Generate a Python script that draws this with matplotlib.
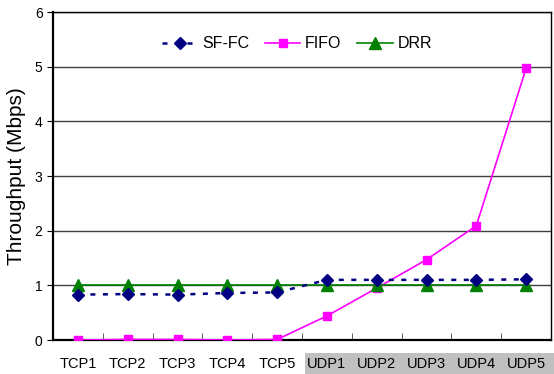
import numpy as np
import matplotlib.pyplot as plt
from matplotlib.patches import Rectangle

flows = ["TCP1", "TCP2", "TCP3", "TCP4", "TCP5", "UDP1", "UDP2", "UDP3", "UDP4", "UDP5"]
sffc = [0.83, 0.84, 0.83, 0.86, 0.87, 1.10, 1.10, 1.10, 1.10, 1.11]
fifo = [0.00, 0.01, 0.01, 0.00, 0.01, 0.44, 0.95, 1.47, 2.09, 4.97]
drr = [1.00, 1.00, 1.00, 1.00, 1.00, 1.00, 1.00, 1.00, 1.00, 1.00]

plt.rcParams['font.family'] = ['Liberation Sans', 'DejaVu Sans']

fig = plt.figure(figsize=(5.54, 3.74), dpi=100)
ax = fig.add_axes([53/554, 1-340/374, 498/554, 328/374])
ax.set_zorder(2)

x = np.arange(len(flows))
ax.plot(x, sffc, color='#000080', ls=(0, (2, 3)), lw=1.8, marker='D', ms=6, label='SF-FC', zorder=4)
ax.plot(x, fifo, color='#ff00ff', ls='-', lw=1.2, marker='s', ms=6, label='FIFO', zorder=3)
ax.plot(x, drr, color='#008000', ls='-', lw=1.2, marker='^', ms=8, label='DRR', zorder=3)

ax.set_xlim(-0.5, len(flows) - 0.5)
ax.set_ylim(0, 6)
ax.set_yticks(range(7))
ax.yaxis.grid(True, color='#404040', lw=1)
ax.set_axisbelow(True)
ax.tick_params(axis='y', direction='out', length=4, labelsize=10)

# category labels without ticks, boundary ticks pointing inward
ax.set_xticks(x)
ax.set_xticklabels(flows, fontsize=10.5)
ax.tick_params(axis='x', which='major', length=0, pad=12)
ax.set_xticks(np.arange(0.5, len(flows) - 0.5), minor=True)
ax.tick_params(axis='x', which='minor', direction='in', length=5, color='#404040')

for s in ['left', 'bottom']:
    ax.spines[s].set_linewidth(1.6)
for s in ['top', 'right']:
    ax.spines[s].set_linewidth(1.0)

ax.set_ylabel('Throughput (Mbps)', fontsize=15, labelpad=6)

# shaded band behind the UDP labels
fig.patches.append(Rectangle((305/554, 0), 249/554, 21/374, transform=fig.transFigure,
                             facecolor='#c0c0c0', edgecolor='none', zorder=0))

ax.legend(loc='upper center', bbox_to_anchor=(0.49, 0.97), ncol=3, frameon=False,
          fontsize=11.5, handlelength=2.2, columnspacing=1.0, handletextpad=0.3)

fig.savefig('out.png', dpi=100)
